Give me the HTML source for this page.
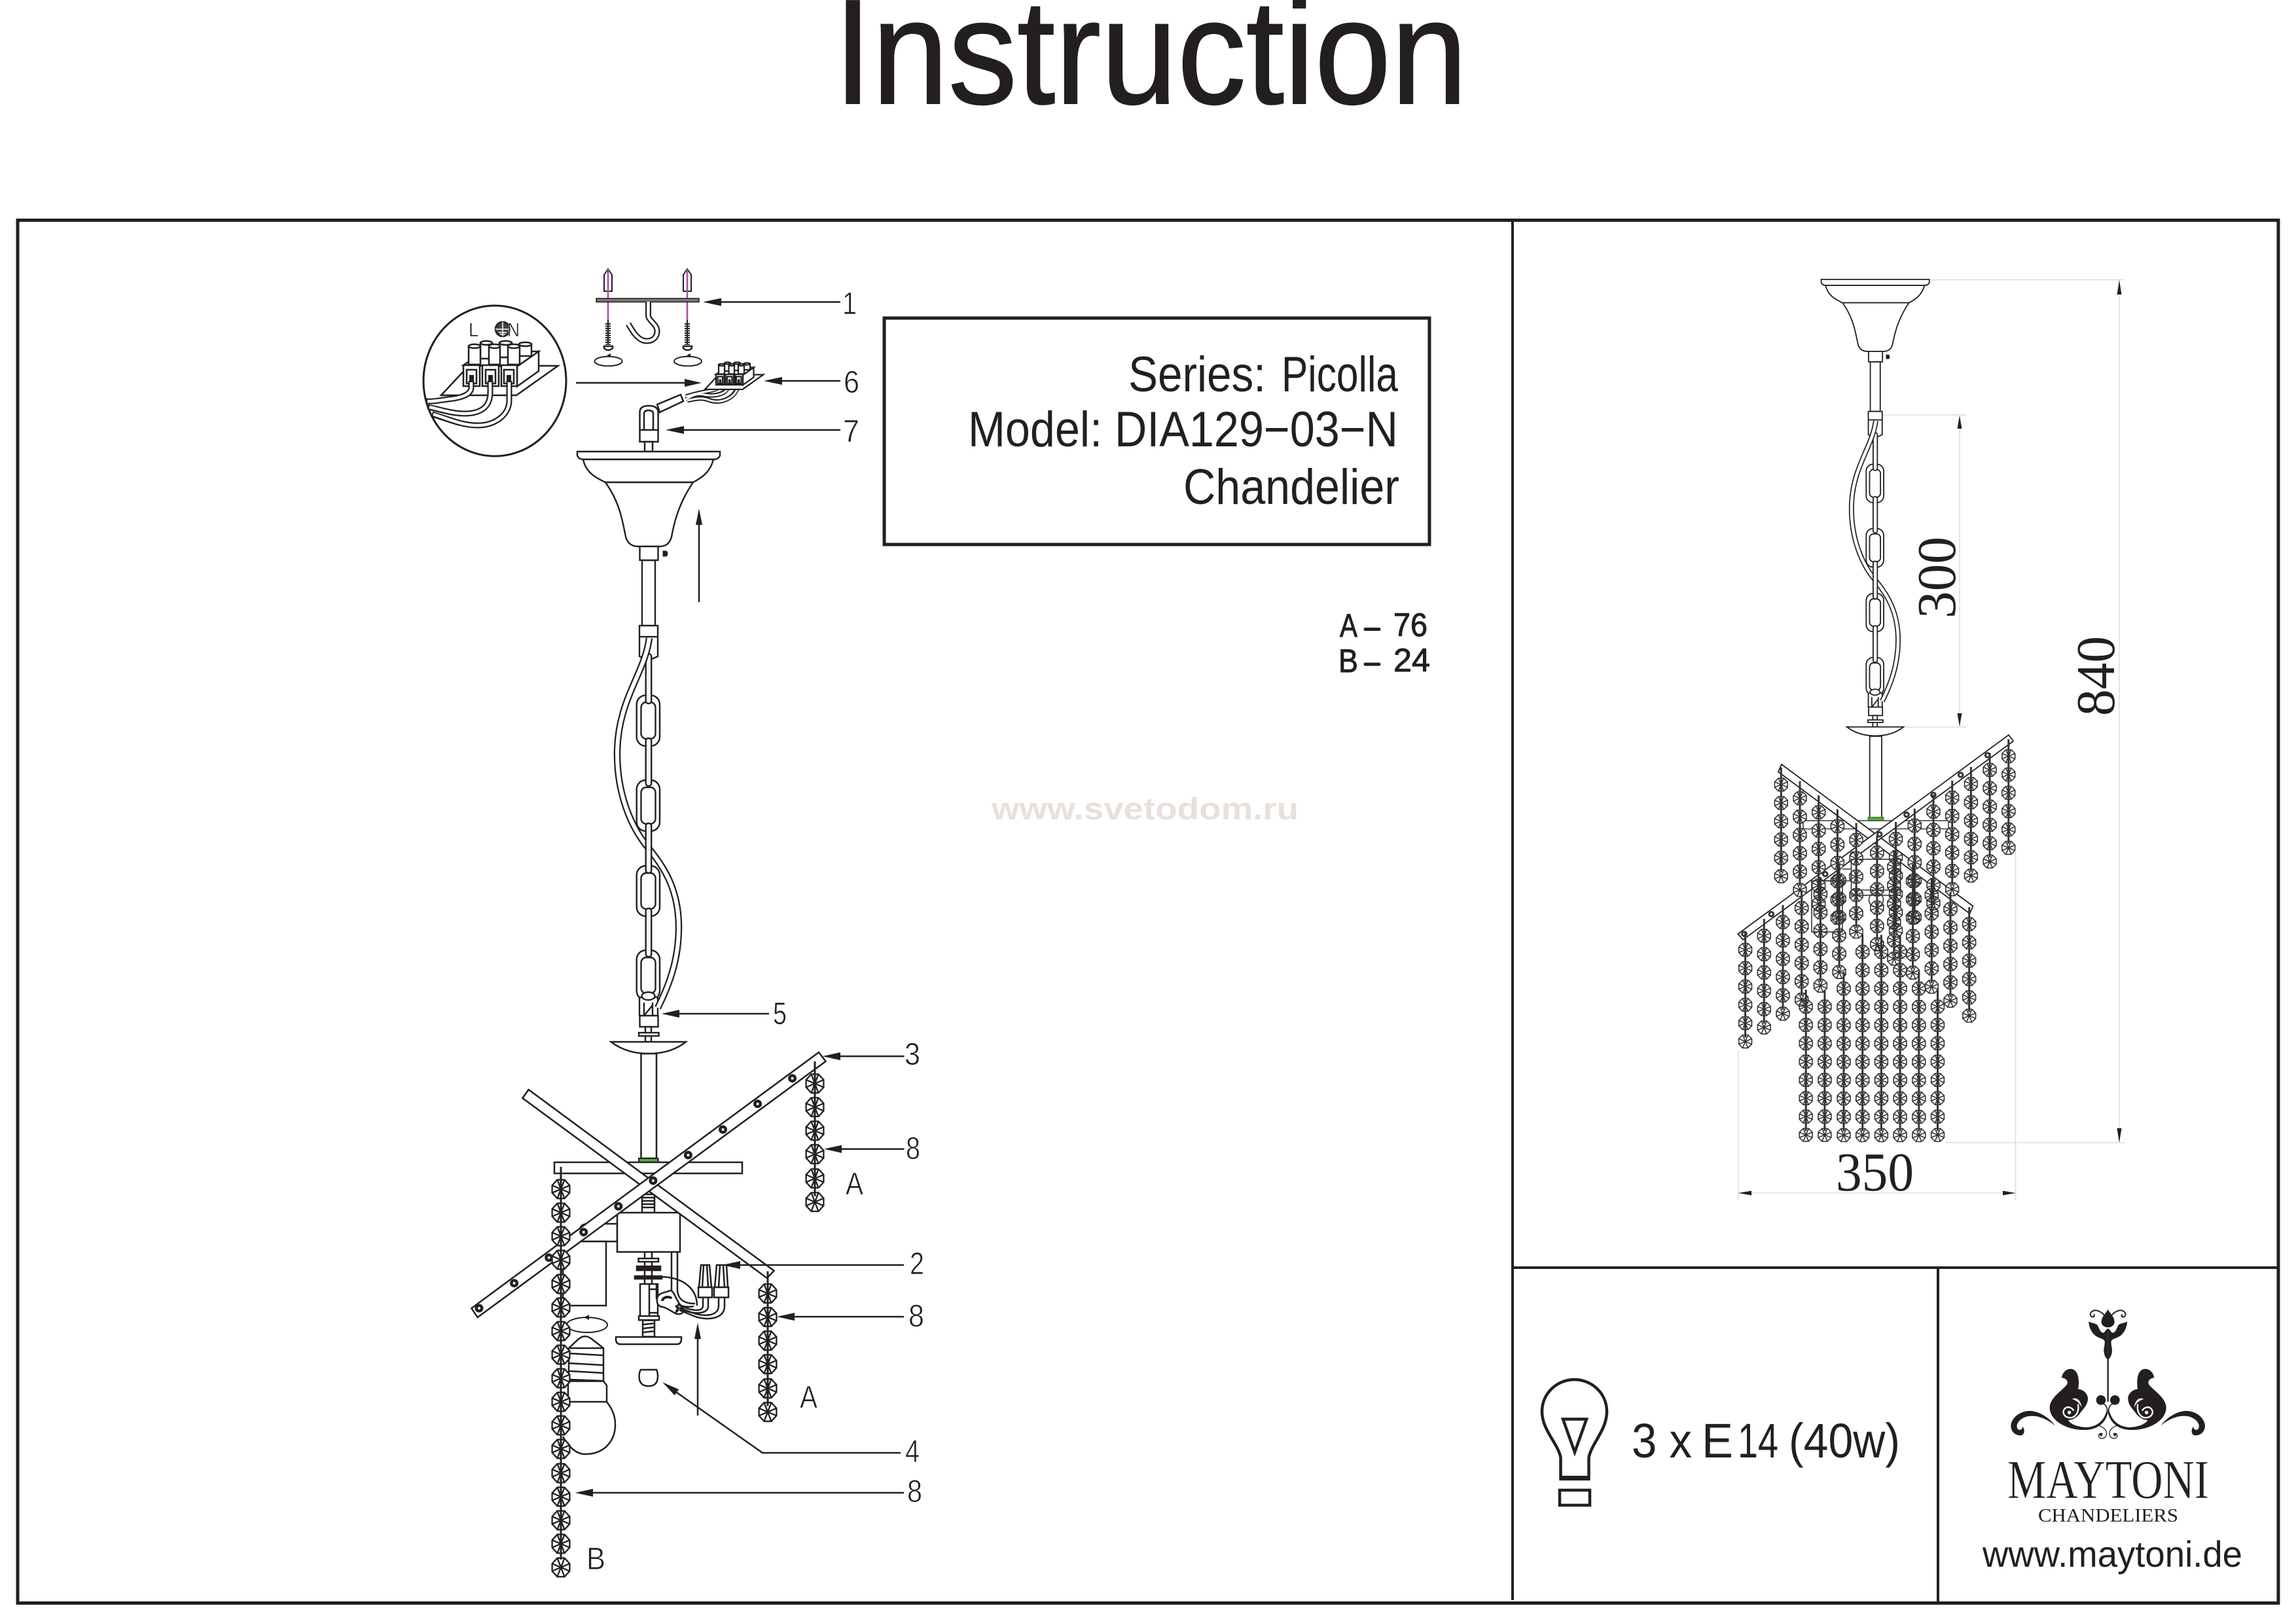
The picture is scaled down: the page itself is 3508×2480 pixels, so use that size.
<!DOCTYPE html>
<html><head><meta charset="utf-8"><title>Instruction</title>
<style>
html,body{margin:0;padding:0;background:#fff}
svg{display:block}
text{font-family:"Liberation Sans",sans-serif;fill:#231f20}
.s{font-family:"Liberation Serif",serif}
.n{font-size:48px;stroke:#fff;stroke-width:.8px}
</style></head><body>
<svg xmlns="http://www.w3.org/2000/svg" width="3508" height="2480" viewBox="0 0 3508 2480">
<defs>
<g id="d"><circle r="6.500" fill="#231f20"/><circle r="2" fill="#fff"/></g>
<g id="e"><ellipse rx="4.800" ry="4.800" fill="#333"/><circle r="1.800" fill="#fff"/></g>
<g id="b"><polygon points="13.4,5.7 5.5,14.3 -5.5,14.3 -13.4,5.7 -13.4,-5.7 -5.5,-14.3 5.5,-14.3 13.4,-5.7"/><path d="M13.4 5.7L-13.4-5.7M5.5 14.3L-5.5-14.3M-5.5 14.3L5.5-14.3M-13.4 5.7L13.4-5.7"/></g>
<g id="l6"><use href="#b"/><use href="#b" y="36"/><use href="#b" y="72"/><use href="#b" y="108"/><use href="#b" y="145"/><use href="#b" y="181"/><path d="M0-34V172" stroke-width="3" fill="none"/></g>
<g id="r"><polygon points="9.9,4.1 4.1,9.9 -4.1,9.9 -9.9,4.1 -9.9,-4.1 -4.1,-9.9 4.1,-9.9 9.9,-4.1"/><path d="M9.9 4.1L-9.9-4.1M4.1 9.9L-4.1-9.9M-4.1 9.9L4.1-9.9M-9.9 4.1L9.9-4.1"/></g>
<g id="r6"><use href="#r"/><use href="#r" y="28"/><use href="#r" y="56"/><use href="#r" y="84"/><use href="#r" y="112"/><use href="#r" y="140"/><path d="M0-26V134" stroke-width="3" fill="none"/></g>
<g id="r8"><use href="#r6"/><use href="#r" y="168"/><use href="#r" y="196"/><path d="M0 134V190" stroke-width="3" fill="none"/></g>
<g id="r9"><use href="#r8"/><use href="#r" y="224"/><path d="M0 190V218" stroke-width="3" fill="none"/></g>
<g id="r11"><use href="#r9"/><use href="#r" y="252"/><use href="#r" y="280"/><path d="M0 218V274" stroke-width="3" fill="none"/></g>
<g id="allr">
<use href="#r6" x="2721.300" y="1198.900"/><use href="#r6" x="2750" y="1219.800"/><use href="#r6" x="2778.700" y="1241.200"/><use href="#r6" x="2807.400" y="1262.600"/><use href="#r6" x="2836.100" y="1283.600"/><use href="#r6" x="2867.900" y="1303"/><use href="#r6" x="2896.600" y="1282"/><use href="#r6" x="2925.300" y="1261.600"/><use href="#r6" x="2954" y="1240.200"/><use href="#r6" x="2982.700" y="1218.800"/><use href="#r6" x="3011.400" y="1197.900"/><use href="#r6" x="3040.100" y="1176.400"/><use href="#r6" x="3068.800" y="1155.500"/>
<use href="#r6" x="2666.600" y="1451.400"/><use href="#r6" x="2695.300" y="1430"/><use href="#r6" x="2724" y="1409"/><use href="#r6" x="2752.700" y="1387.600"/><use href="#r6" x="2781.400" y="1366.200"/><use href="#r6" x="2810.100" y="1345.300"/><use href="#r6" x="2893.900" y="1324.900"/><use href="#r6" x="2922.600" y="1346.300"/><use href="#r6" x="2951.300" y="1367.800"/><use href="#r6" x="2980" y="1389.200"/><use href="#r6" x="3008.700" y="1412.100"/>
<use href="#r8" x="2759.200" y="1538.200"/><use href="#r8" x="2787.900" y="1538.200"/><use href="#r9" x="2817" y="1510.600"/><use href="#r11" x="2845.700" y="1454.500"/><use href="#r11" x="2874.400" y="1454.500"/><use href="#r11" x="2903.100" y="1454.500"/><use href="#r9" x="2931.800" y="1510.600"/><use href="#r8" x="2960.500" y="1538.200"/>
</g>

<g id="term">
<polygon points="674,604 716,559 852.5,559 789,604" fill="#fff"/>
<polygon points="790,560 823,537 823,567 790,590.5" fill="#fff"/>
<polygon points="708,558 740,537 823,537 790,560" fill="#fff"/>
<g fill="#fff">
<rect x="734" y="524" width="18" height="24"/><ellipse cx="743" cy="524" rx="9" ry="3"/>
<rect x="763" y="524" width="19" height="22"/><ellipse cx="772.500" cy="524" rx="9.500" ry="3"/>
<rect x="793" y="526" width="19" height="18"/><ellipse cx="802.500" cy="526" rx="9.500" ry="3"/>
<rect x="716" y="529" width="18" height="28"/><ellipse cx="725" cy="529" rx="9" ry="3"/>
<rect x="747" y="529" width="17" height="28"/><ellipse cx="755.500" cy="529" rx="8.500" ry="3"/>
<rect x="776" y="529" width="18" height="28"/><ellipse cx="785" cy="529" rx="9" ry="3"/>
<rect x="708" y="558" width="25" height="32"/><rect x="737" y="558" width="25" height="32"/><rect x="766" y="558" width="24" height="32"/>
<rect x="713" y="565" width="15" height="21"/><rect x="742" y="565" width="15" height="21"/><rect x="770" y="565" width="15" height="21"/>
</g>
<rect x="717" y="573" width="7" height="13" fill="#231f20" stroke="none"/><rect x="746" y="573" width="7" height="13" fill="#231f20" stroke="none"/><rect x="774" y="573" width="7" height="13" fill="#231f20" stroke="none"/>
</g>

<g id="hang" fill="#fff" stroke="#231f20" stroke-width="2.400">
<path d="M882 690H1100V696Q1098 702 1090 702H892Q884 702 882 696Z"/>
<path d="M891 702C895 722 910 730 925 737H1059C1072 730 1085 722 1090 702Z"/>
<path d="M925 737C945 765 950 790 955 815C957 830 965 835 975 835H1007C1018 835 1025 830 1027 815C1032 790 1040 765 1059 737Z"/>
<rect x="981" y="856" width="20" height="100"/>
<rect x="977.500" y="835" width="28" height="21"/>
<path d="M1013 842h5q4 4 0 8h-5z" fill="#231f20" stroke-width="1"/>
<path d="M977 973V1003L986 1007M1005 973V1003L996 1007" fill="none"/>
<rect x="977" y="956" width="28" height="17"/>
<g fill="none">
<rect x="972.700" y="1062.400" width="35.300" height="77.600" rx="14"/><rect x="979.500" y="1073" width="22" height="56" rx="8"/>
<rect x="972.700" y="1192" width="35.300" height="78" rx="14"/><rect x="979.500" y="1203" width="22" height="56" rx="8"/>
<rect x="972.700" y="1323" width="35.300" height="77" rx="14"/><rect x="979.500" y="1334" width="22" height="55" rx="8"/>
<rect x="972.700" y="1452" width="35.300" height="76" rx="14"/><rect x="979.500" y="1463" width="22" height="55" rx="8"/>
</g>
<rect x="986.700" y="999" width="8.500" height="76" rx="4"/>
<rect x="986.700" y="1128" width="8.500" height="73" rx="4"/>
<rect x="986.700" y="1388" width="8.500" height="74" rx="4"/>
<rect x="977" y="1524" width="28" height="28"/>
<path d="M984 1552V1532M997 1552V1532M984 1552L997 1536" fill="none"/>
<ellipse cx="990.500" cy="1522" rx="10" ry="6"/>
<path d="M992 975C985 1030 943 1070 943 1152C943 1215 965 1265 990 1295C1015 1325 1037 1360 1037 1417C1037 1470 1020 1510 1005 1540" fill="none" stroke-width="10.500"/>
<path d="M992 975C985 1030 943 1070 943 1152C943 1215 965 1265 990 1295C1015 1325 1037 1360 1037 1417C1037 1470 1020 1510 1005 1540" fill="none" stroke="#fff" stroke-width="6"/>
<rect x="986.700" y="1258" width="8.500" height="76" rx="4"/>
<rect x="977.500" y="1552" width="28" height="17"/>
<rect x="986" y="1569" width="9" height="23"/>
<rect x="976" y="1578" width="30.500" height="5"/>
<path d="M933.600 1592H1048Q1025 1610 991 1610Q957 1610 933.600 1592Z"/>
</g>

<g id="logoH">
<path d="M394 72C405 82 425 78 436 92C442 105 446 122 460 125C470 122 470 110 482 105V248C470 240 464 225 463 205C464 185 470 175 466 160C455 148 430 150 412 125C400 110 394 90 394 72Z"/>
<path d="M470 50C455 30 430 15 412 25C398 32 398 50 412 52C420 52 422 44 416 40" fill="none" stroke="#231f20" stroke-width="6"/>
<path d="M270 330C275 300 300 285 322 292C345 302 352 335 346 383C370 385 392 405 390 430C388 455 372 470 358 488C345 510 320 525 300 525C310 545 350 558 385 558C430 555 465 530 477 478L482 490C472 540 430 572 370 570C290 570 215 525 215 468C215 420 280 385 295 360C300 350 295 335 270 330Z"/>
<path d="M318 428C340 418 358 435 362 468C352 445 338 436 318 428Z" fill="#fff"/>
<path d="M345 452C352 490 330 520 300 513C275 507 270 480 290 468C300 462 318 468 325 482" fill="none" stroke="#fff" stroke-width="7"/>
<circle cx="305" cy="490" r="8" fill="#fff"/>
<circle cx="450" cy="433" r="22"/>
<path d="M460 450C475 455 478 470 480 485" fill="none" stroke="#231f20" stroke-width="5"/>
<path d="M240 550C210 510 160 480 115 483C75 487 40 515 37 550C37 580 60 597 85 595C100 590 103 570 90 553C92 568 78 575 68 565C58 550 70 525 100 512C140 497 190 510 240 550Z"/>
<path d="M425 550C450 548 478 565 475 590C472 610 450 615 440 600C435 590 450 580 458 590" fill="none" stroke="#231f20" stroke-width="4"/>
<circle cx="450" cy="592" r="6"/>
</g>
</defs>

<rect width="3508" height="2480" fill="#fff"/>

<!-- title -->
<text x="1274" y="158" font-size="228" textLength="968" lengthAdjust="spacingAndGlyphs" stroke="#231f20" stroke-width="2">Instruction</text>

<!-- frame -->
<g fill="none" stroke="#231f20">
<rect x="27" y="336.500" width="3454" height="2113" stroke-width="5"/>
<path d="M2311 339V2445M2311 1937H3481M2961 1937V2447" stroke-width="4"/>
<rect x="1351" y="486" width="833" height="346" stroke-width="5"/>
</g>

<!-- spec box -->
<text x="1724" y="598" font-size="76" textLength="210" lengthAdjust="spacingAndGlyphs">Series:</text>
<text x="1958" y="598" font-size="76" textLength="178" lengthAdjust="spacingAndGlyphs">Picolla</text>
<text x="1479" y="682" font-size="76" textLength="657" lengthAdjust="spacingAndGlyphs">Model: DIA129−03−N</text>
<text x="1808" y="770" font-size="76" textLength="330" lengthAdjust="spacingAndGlyphs">Chandelier</text>

<!-- quantities -->
<g font-size="50" stroke="#231f20" stroke-width="1" stroke-linejoin="round">
<text x="2047" y="973" textLength="27" lengthAdjust="spacingAndGlyphs">A</text>
<text x="2129" y="972" textLength="52" lengthAdjust="spacingAndGlyphs">76</text>
<text x="2045" y="1027" textLength="30" lengthAdjust="spacingAndGlyphs">B</text>
<text x="2129" y="1026" textLength="56" lengthAdjust="spacingAndGlyphs">24</text>
</g>
<path d="M2086 961.500H2107M2086 1015H2107" stroke="#231f20" stroke-width="5" stroke-linecap="round"/>

<!-- watermark -->
<text x="1515" y="1252" font-size="47" font-weight="bold" textLength="469" lengthAdjust="spacingAndGlyphs" style="fill:#e8e0dc">www.svetodom.ru</text>

<!-- LEFT DRAWING -->
<g stroke="#231f20" stroke-width="2.500" fill="none">
<polygon points="929,411 935,420 935,445 923,445 923,420" fill="#fff" stroke-width="2"/>
<polygon points="1050,411 1056,420 1056,445 1044,445 1044,420" fill="#fff" stroke-width="2"/>
<path d="M929 411V490M1050 411V490" stroke="#a64ca6" stroke-width="2.500"/>
<rect x="911" y="456" width="157" height="5.500" fill="#777" stroke-width="1.500"/>
<path d="M990.500 461V482C990.500 490 1004 495 1004 506C1004 520 990 523 982 520C972 516 966 505 960 495" stroke-width="9"/>
<path d="M990.500 461V482C990.500 490 1004 495 1004 506C1004 520 990 523 982 520C972 516 966 505 960 495" stroke="#fff" stroke-width="4.500"/>
<path d="M929 494V527M1050 494V527" stroke-width="8" stroke-dasharray="2 1.500"/>
<path d="M929 489V527M1050 489V527" stroke-width="2"/>
<path d="M923 529H936V532Q933 535 929.500 535Q926 535 923 532ZM1044 529H1057V532Q1054 535 1050.500 535Q1047 535 1044 532Z" fill="#fff"/>
<ellipse cx="929.500" cy="552" rx="21" ry="7.300" stroke-width="2"/>
<ellipse cx="1051" cy="552" rx="21" ry="7.300" stroke-width="2"/>
<path d="M927 543l6-3v6zM1049 543l6-3v6z" fill="#231f20" stroke="none"/>

<!-- inset -->
<ellipse cx="756" cy="582" rx="109" ry="115" stroke-width="3" fill="#fff"/>
<use href="#term" stroke-width="2.500"/>
<g stroke-width="9">
<path d="M720 582V592C720 603 705 608 685 610C670 612 660 614 651 613"/>
<path d="M749 582V600C749 625 730 632 710 632C690 632 670 625 654 622"/>
<path d="M778 582V612C778 635 755 650 730 650C705 650 685 640 660 633"/>
</g>
<g stroke="#fff" stroke-width="4.500">
<path d="M720 584V592C720 603 705 608 685 610C670 612 660 614 653 613"/>
<path d="M749 584V600C749 625 730 632 710 632C690 632 670 625 656 622"/>
<path d="M778 584V612C778 635 755 650 730 650C705 650 685 640 662 633"/>
</g>
<circle cx="768" cy="503" r="11" fill="#444" stroke="#231f20"/>
<path d="M768 492V514M757 503H779M762 508H774M764 511H772" stroke="#fff" stroke-width="1.500"/>

<!-- small terminal and wires -->
<g stroke-width="7">
<path d="M1098 590C1098 597 1075 597 1048 606"/>
<path d="M1112 590C1112 600 1095 607 1075 603C1065 600 1055 606 1048 610"/>
<path d="M1127 590C1125 605 1105 618 1085 612C1072 606 1060 610 1050 612"/>
</g>
<g stroke="#fff" stroke-width="3">
<path d="M1098 592C1098 597 1075 597 1048 606"/>
<path d="M1112 592C1112 600 1095 607 1075 603C1065 600 1055 606 1048 610"/>
<path d="M1127 592C1125 605 1105 618 1085 612C1072 606 1060 610 1050 612"/>
</g>
<g transform="translate(740,293) scale(.5)" stroke-width="4.500"><use href="#term"/></g>
<polygon points="1004,618 1040,603 1044,613 1008,630" fill="#fff"/>
<path d="M977.500 657V630Q977.500 620 991 620Q1005.600 620 1005.600 630V657" fill="#fff"/>
<path d="M984 657V632Q984 627 991 627Q998 627 998 632V657"/>
<rect x="977.500" y="657" width="28" height="18" fill="#fff"/>
<rect x="985" y="675" width="12" height="15" fill="#fff"/>
</g>

<use href="#hang"/>

<!-- lower part -->
<g stroke="#231f20" stroke-width="2.500" fill="#fff">
<rect x="979.500" y="1610" width="23.500" height="160"/>
<rect x="976" y="1770" width="29.500" height="6" fill="#5aa83c" stroke-width="2"/>
<rect x="847" y="1776" width="287" height="17"/>
<path d="M985 1913H996V1962H985Z"/>
<rect x="975.500" y="1923" width="30.500" height="5"/>
<rect x="973" y="1935" width="36" height="6" fill="#231f20"/>
<rect x="970" y="1950" width="41" height="4" fill="#231f20"/>
<rect x="981" y="1825" width="19" height="28"/>
<path d="M981 1830H1000M981 1835H1000M981 1840H1000M981 1845H1000" fill="none"/>
<path d="M943 1897H885V1884Q885 1870 898 1870H943Z"/>
<path d="M926 1897V1995H860V1897Z" fill="#fff"/>
<rect x="943" y="1853" width="96" height="60"/>
<polygon points="807.600,1665 1182.500,1941.700 1172,1953 798.400,1678"/>
<polygon points="1251,1608 1261.600,1621.700 729.600,2013 720.400,1999"/>
</g>
<use href="#d" x="1210.600" y="1647.700"/><use href="#d" x="1157.600" y="1686.700"/><use href="#d" x="1104.500" y="1726"/><use href="#d" x="1051.400" y="1765"/><use href="#d" x="997.900" y="1804"/><use href="#d" x="944.800" y="1843.300"/><use href="#d" x="891.700" y="1882.700"/><use href="#d" x="838.700" y="1921.700"/><use href="#d" x="785.600" y="1960.700"/><use href="#d" x="732" y="1999"/>
<!-- socket, wires -->
<g stroke="#231f20" stroke-width="2.500" fill="none">
<path d="M1026 1913V1970C1026 1990 1040 2000 1060 1996M1035 1913V1970C1035 1985 1045 1992 1062 1992"/>
<path d="M1011 1951C1045 1952 1065 1970 1065 1995"/>
<rect x="978" y="1962" width="27" height="55" fill="#fff"/>
<path d="M992 1962V2010M992 1970H1003M1003 1962V1985M992 2006H1005"/>
<rect x="976" y="2011" width="31" height="6" fill="#fff"/>
<rect x="982" y="2017.500" width="18" height="25" fill="#fff"/>
<path d="M982 2024L1000 2022M982 2030L1000 2028M982 2036L1000 2034"/>
<path d="M941 2043H1041V2048Q1040 2054 1034 2054H948Q942 2054 941 2048Z" fill="#fff"/>
<path d="M1004 1985C1004 1975 1018 1975 1024 1972C1030 1972 1032 1985 1040 1995C1048 2002 1044 2008 1036 2008C1030 2008 1020 1998 1012 1997C1006 1996 1003 1992 1004 1985Z" fill="#fff"/>
<path d="M1012 1988C1012 1982 1022 1980 1026 1984M1032 1996C1038 1996 1036 2004 1032 2004" stroke-width="4"/>
<path d="M1074 1982V1995C1074 2006 1055 2003 1035 1993M1082 1982V1996C1082 2008 1060 2010 1038 1999M1098 1982V1995C1098 2012 1075 2012 1058 2006L1038 1998M1107 1982V1996C1107 2018 1075 2018 1058 2010L1038 2002"/>
<path d="M1071 1933H1084L1087 1967H1068ZM1095 1933H1110L1112 1967H1092Z" fill="#fff"/>
<path d="M1075 1933L1073 1967M1080 1933L1082 1967M1100 1933L1098 1967M1105 1933L1107 1967"/>
<rect x="1067" y="1967" width="21" height="15.500" fill="#fff"/>
<rect x="1091" y="1967" width="22" height="15.500" fill="#fff"/>
<path d="M979 2093H1003Q1005 2097 1005 2103Q1005 2118 991 2118Q976.500 2118 976.500 2103Q976.500 2097 979 2093Z"/>
<ellipse cx="897" cy="2024.500" rx="31" ry="11.500" stroke-width="2"/>
<path d="M892 2013l8-4v8z" fill="#231f20" stroke="none"/>
<path d="M869 2060L884 2046Q894 2038 904 2046L922 2060V2110.500H869Z" fill="#fff"/>
<path d="M869 2060H922M869 2068L922 2071M869 2083L922 2086M869 2095L922 2098M869 2108L922 2110"/>
<path d="M868 2110.500H922L927 2117V2142H868Z" fill="#fff"/>
<path d="M927 2142C937 2155 940 2165 940 2177C940 2200 925 2222 894 2222C880 2222 868 2210 860 2195"/>
</g>
<!-- left strands -->
<g stroke="#231f20" stroke-width="2.300" fill="#fff">
<use href="#l6" x="1245" y="1655.700"/>
<use href="#l6" x="1173" y="1976.500"/>
<g transform="translate(857,1817)">
<path d="M0-34V578" stroke-width="3" fill="none"/>
<use href="#b"/><use href="#b" y="36"/><use href="#b" y="72"/><use href="#b" y="108"/><use href="#b" y="145"/><use href="#b" y="181"/><use href="#b" y="217"/><use href="#b" y="253"/><use href="#b" y="289"/><use href="#b" y="325"/><use href="#b" y="361"/><use href="#b" y="397"/><use href="#b" y="434"/><use href="#b" y="470"/><use href="#b" y="506"/><use href="#b" y="542"/><use href="#b" y="578"/>
<path d="M0-34V566" stroke-width="3" fill="none"/>
</g>
</g>

<!-- callouts -->
<g stroke="#231f20" stroke-width="2.500" fill="none">
<path d="M1100 461.500H1284M880 585H1050M1190 582H1284M1040 657H1284M1068 800V920M1035 1549H1175M1280 1614H1381.500M1285 1755.700H1381.500M1125 1933H1381M1210 2012H1381M900 2281H1381M1376 2220H1165L1030 2125M1066 2045V2163"/>
</g>
<g fill="#231f20">
<polygon points="1074,461.500 1102,455.500 1102,467.500"/>
<polygon points="1072,585 1046,579 1046,591"/>
<polygon points="1167,582 1195,576 1195,588"/>
<polygon points="1017,657 1045,651 1045,663"/>
<polygon points="1068,777 1063,802 1073,802"/>
<polygon points="1010.600,1549 1038,1543 1038,1555"/>
<polygon points="1256.500,1614 1284,1608 1284,1620"/>
<polygon points="1259,1755.700 1286,1749.700 1286,1761.700"/>
<polygon points="1103.500,1933 1131,1927 1131,1939"/>
<polygon points="1187,2012 1214,2006 1214,2018"/>
<polygon points="878.600,2281 906,2275 906,2287"/>
<polygon points="1012,2112 1037.200,2123.100 1030.800,2132.100"/>
<polygon points="1066,2021 1061,2046 1071,2046"/>
</g>
<g>
<text class="n" x="1287" y="480" textLength="22" lengthAdjust="spacingAndGlyphs">1</text>
<text class="n" x="1289" y="600" textLength="24" lengthAdjust="spacingAndGlyphs">6</text>
<text class="n" x="1288" y="675" textLength="25" lengthAdjust="spacingAndGlyphs">7</text>
<text class="n" x="1181" y="1565" textLength="21" lengthAdjust="spacingAndGlyphs">5</text>
<text class="n" x="1382" y="1627" textLength="24" lengthAdjust="spacingAndGlyphs">3</text>
<text class="n" x="1384" y="1771" textLength="22" lengthAdjust="spacingAndGlyphs">8</text>
<text class="n" x="1390" y="1947" textLength="22" lengthAdjust="spacingAndGlyphs">2</text>
<text class="n" x="1388" y="2027" textLength="24" lengthAdjust="spacingAndGlyphs">8</text>
<text class="n" x="1383" y="2234" textLength="22" lengthAdjust="spacingAndGlyphs">4</text>
<text class="n" x="1386" y="2295" textLength="23" lengthAdjust="spacingAndGlyphs">8</text>
<text class="n" x="1292" y="1825" textLength="27" lengthAdjust="spacingAndGlyphs">A</text>
<text class="n" x="1222" y="2151" textLength="27" lengthAdjust="spacingAndGlyphs">A</text>
<text class="n" x="896" y="2398" textLength="29" lengthAdjust="spacingAndGlyphs">B</text>
<text x="716" y="514" font-size="30" textLength="15" lengthAdjust="spacingAndGlyphs" stroke="#fff" stroke-width=".5">L</text>
<text x="775" y="514" font-size="30" textLength="19" lengthAdjust="spacingAndGlyphs" stroke="#fff" stroke-width=".5">N</text>
</g>

<!-- RIGHT DRAWING -->
<g transform="translate(2114,-96) scale(.758)"><use href="#hang"/></g>
<g stroke="#231f20" stroke-width="1.800" fill="#fff">
<rect x="2856.700" y="1125" width="18.300" height="125"/>
<rect x="2854.500" y="1249" width="23" height="5" fill="#5aa83c" stroke="#3d8a2a"/>
<rect x="2755" y="1254" width="222" height="12.500" fill="#fff" stroke="#555"/>
<polygon points="2722,1168 3014.500,1384.600 3009.500,1396 2717,1179.500"/>
<polygon points="3069,1123 3076,1132.500 2663,1436 2655.500,1427"/>
</g>
<use href="#e" x="3036.700" y="1154"/><use href="#e" x="2995.700" y="1184"/><use href="#e" x="2954" y="1214.700"/><use href="#e" x="2913" y="1244.800"/><use href="#e" x="2871.700" y="1274.900"/><use href="#e" x="2831.200" y="1305.500"/><use href="#e" x="2788.700" y="1335.600"/><use href="#e" x="2747.300" y="1365.700"/><use href="#e" x="2706.400" y="1396.800"/><use href="#e" x="2665" y="1427"/>
<!-- masks under beads, then box lines, then bead outlines -->
<use href="#allr" fill="#fff" stroke="none"/>
<g stroke="#333" stroke-width="1.600" fill="none">
<rect x="2828.500" y="1313" width="75" height="55"/>
<path d="M2828.500 1360H2904M2788 1346H2828M2815 1328H2828"/>
<rect x="2768" y="1346" width="47" height="78"/>
<circle cx="2866.500" cy="1375" r="11"/>
</g>
<use href="#allr" fill="none" stroke="#333" stroke-width="1.600"/>

<!-- dimensions -->
<g stroke="#ddd" stroke-width="1.500" fill="none">
<path d="M2950 427.600H3247M2973 1746H3247M3238 428V1746M2877 634H3004M2911 1111H3004M2994 634V1111M2656 1605V1834M3079.500 1299V1834M2656 1823H3079.500"/>
</g>
<g fill="#231f20">
<polygon points="3238,428 3234.500,450 3241.500,450"/>
<polygon points="3238,1746 3234.500,1724 3241.500,1724"/>
<polygon points="2994,635 2990.500,655 2997.500,655"/>
<polygon points="2994,1110 2990.500,1090 2997.500,1090"/>
<polygon points="2656,1823 2676,1819.500 2676,1826.500"/>
<polygon points="3079.500,1823 3060,1819.500 3060,1826.500"/>
</g>
<g style="font-size:84px">
<text class="s" transform="translate(3230,1094) rotate(-90)" textLength="122" lengthAdjust="spacingAndGlyphs">840</text>
<text class="s" transform="translate(2987,945) rotate(-90)" textLength="125" lengthAdjust="spacingAndGlyphs">300</text>
<text class="s" x="2805" y="1819" textLength="119" lengthAdjust="spacingAndGlyphs">350</text>
</g>

<!-- bulb icon -->
<g fill="none" stroke="#231f20" stroke-width="4.500">
<path d="M2384.500 2260V2227C2380 2205 2356 2185 2356 2157C2356 2128 2380 2108 2405.500 2108C2431 2108 2455 2128 2455 2157C2455 2185 2432 2205 2427.500 2227V2260Z"/>
<path d="M2384.500 2258H2427.500" stroke-width="6"/>
<polygon points="2388,2168.500 2424,2168.500 2406,2219"/>
<rect x="2383" y="2277" width="46" height="23"/>
</g>
<g font-size="74">
<text x="2493" y="2227" textLength="92" lengthAdjust="spacingAndGlyphs">3 x</text>
<text x="2600" y="2227" textLength="48" lengthAdjust="spacingAndGlyphs">E</text>
<text x="2655" y="2227" textLength="62" lengthAdjust="spacingAndGlyphs">14</text>
<text x="2733" y="2227" textLength="170" lengthAdjust="spacingAndGlyphs">(40w)</text>
</g>

<!-- logo -->
<g transform="translate(3060,1995) scale(.33333)" fill="#231f20">
<path d="M482 17C490 35 512 50 512 75C512 90 498 100 482 100C466 100 452 90 452 75C452 50 474 35 482 17Z"/>
<rect x="478.500" y="245" width="7" height="195"/>
<use href="#logoH"/>
<g transform="translate(964,0) scale(-1,1)"><use href="#logoH"/></g>
</g>
<text class="s" x="3067" y="2289" font-size="84" textLength="308" lengthAdjust="spacingAndGlyphs" stroke="#fff" stroke-width=".6">MAYTONI</text>
<text class="s" x="3114" y="2325" font-size="28" textLength="214" lengthAdjust="spacingAndGlyphs">CHANDELIERS</text>
<text x="3029" y="2394" font-size="56" textLength="397" lengthAdjust="spacingAndGlyphs">www.maytoni.de</text>
</svg>
</body></html>
